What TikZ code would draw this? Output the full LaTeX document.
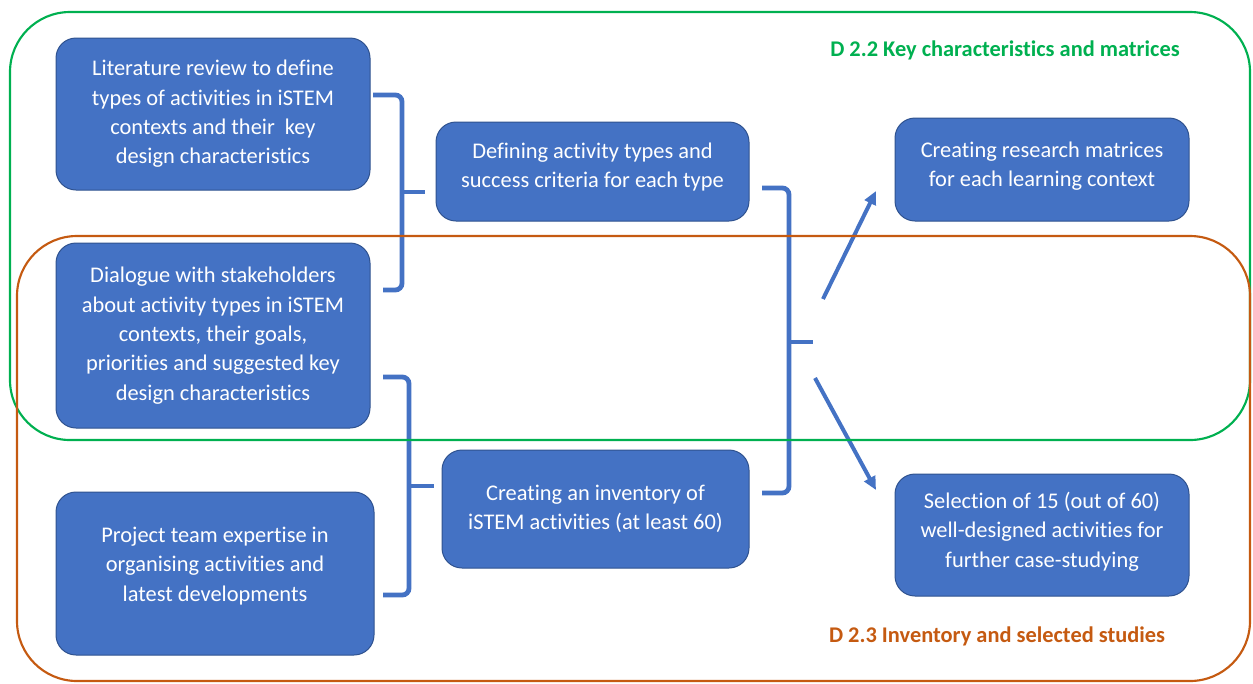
\documentclass[tikz,border=0pt]{standalone}
\usepackage{fontspec}
\setmainfont{Carlito}[Ligatures=NoCommon]
\usetikzlibrary{arrows.meta}

\definecolor{boxblue}{RGB}{68,114,196}
\definecolor{boxedge}{RGB}{47,82,143}
\definecolor{dgreen}{RGB}{0,176,80}
\definecolor{dorange}{RGB}{197,90,17}

\tikzset{every picture/.style={line width=0.75pt}}
\tikzset{
  actbox/.style={draw=boxedge, fill=boxblue, rounded corners=15pt, align=center,
    text=white, font=\fontsize{16.8}{22}\selectfont, inner sep=0pt},
  brace/.style={draw=boxblue, line width=3.6pt, rounded corners=5pt},
  arr/.style={draw=boxblue, line width=3pt, -{Triangle[length=10pt,width=9pt]}},
  deliv/.style={line width=1.6pt, rounded corners=45pt},
  delivlabel/.style={font=\fontsize{16.8}{20}\selectfont\bfseries}
}

\begin{document}
\begin{tikzpicture}[x=0.75pt,y=0.75pt,yscale=-1,xscale=1]
\useasboundingbox (0,0) rectangle (1253,683);

% Input boxes
\node[actbox, minimum width=235.5pt, minimum height=114pt] (lit) at (213,114)
  {Literature review to define\\types of activities in iSTEM\\contexts and their\ \ key\\design characteristics};
\node[actbox, minimum width=235.5pt, minimum height=138.75pt] (dialog) at (213,335.5)
  {Dialogue with stakeholders\\about activity types in iSTEM\\contexts, their goals,\\priorities and suggested key\\design characteristics};
\node[actbox, minimum width=238.5pt, minimum height=122.25pt] (team) at (215,573.5)
  {Project team expertise in\\organising activities and\\latest developments\rule[-14pt]{0pt}{0pt}};

% Middle boxes
\node[actbox, minimum width=234.75pt, minimum height=74.25pt] (define) at (592.5,171.5)
  {Defining activity types and\\success criteria for each type\rule[-9pt]{0pt}{0pt}};
\node[actbox, minimum width=230.25pt, minimum height=88.5pt] (invent) at (595.5,509)
  {Creating an inventory of\\iSTEM activities (at least 60)};

% Output boxes
\node[actbox, minimum width=220.5pt, minimum height=77.25pt] (matrix) at (1042,169.5)
  {Creating research matrices\\for each learning context\rule[-8pt]{0pt}{0pt}};
\node[actbox, minimum width=220.5pt, minimum height=91.5pt] (select) at (1042,535)
  {Selection of 15 (out of 60)\\well-designed activities for\\further case-studying\rule[-8pt]{0pt}{0pt}};

%Braces
\draw[brace] (373,95) -- (402,95) -- (402,290) -- (383,290);
\draw[brace, rounded corners=0pt] (402,192) -- (425,192);
\draw[brace] (383,377) -- (409,377) -- (409,595) -- (383,595);
\draw[brace, rounded corners=0pt] (409,486) -- (434,486);
\draw[brace] (762,188) -- (789,188) -- (789,493) -- (762,493);
\draw[brace, rounded corners=0pt] (789,342) -- (813,342);

%Arrows
\coordinate (upfrom) at (823,299);
\coordinate (upto) at (876,191);
\coordinate (downfrom) at (815,378);
\coordinate (downto) at (876,490);
\draw[arr] (upfrom) -- (upto);
\draw[arr] (downfrom) -- (downto);

%Deliverables
\draw[deliv, draw=dgreen] (10,12) rectangle (1250,440);
\draw[deliv, draw=dorange] (17,236) rectangle (1250,681);

% Text Node
\node[delivlabel, text=dgreen] (d22) at (1005,50) {D 2.2 Key characteristics and matrices};
% Text Node
\node[delivlabel, text=dorange] (d23) at (997,636) {D 2.3 Inventory and selected studies};

\end{tikzpicture}
\end{document}
